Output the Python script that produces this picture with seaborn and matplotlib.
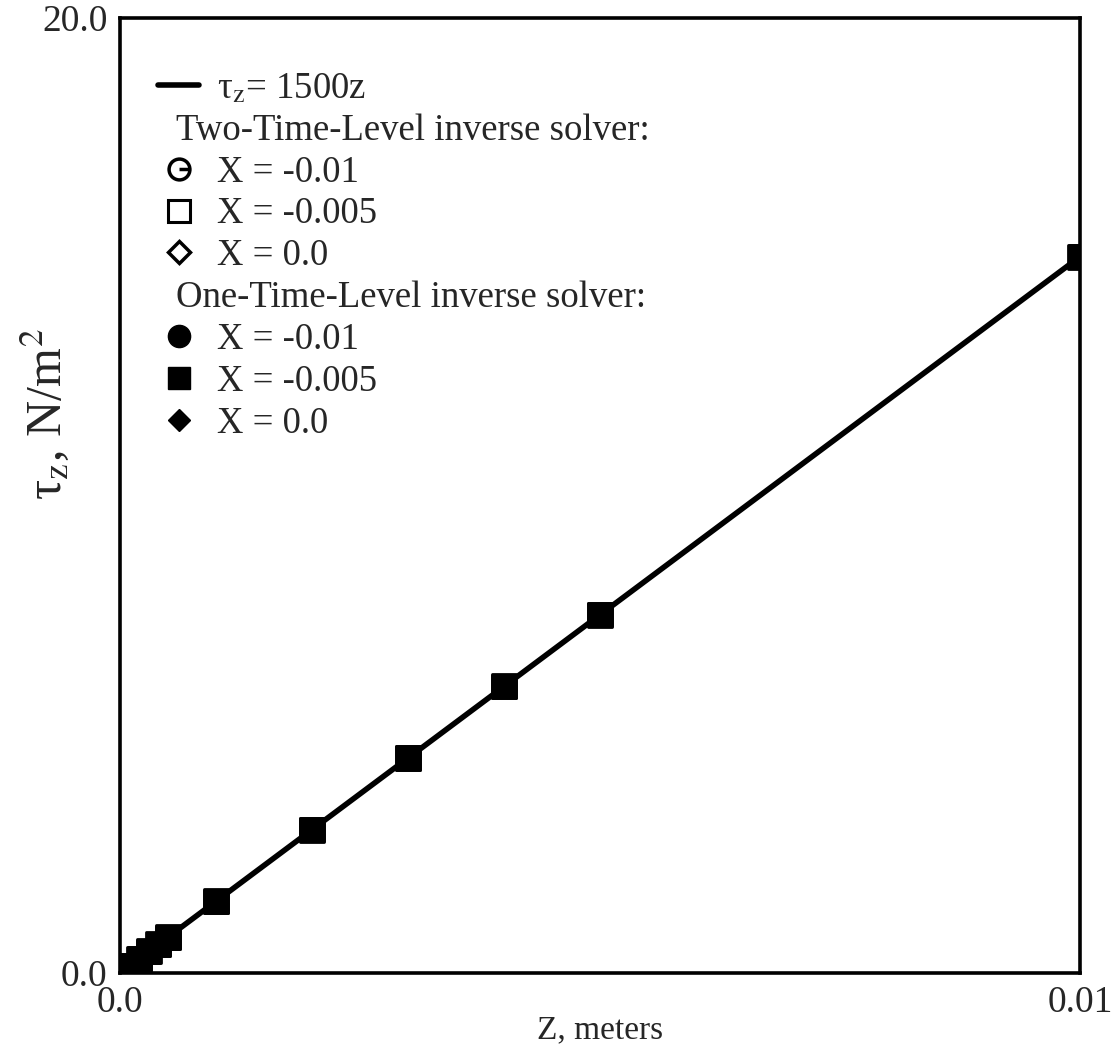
import numpy as np
import pandas as pd
import matplotlib
matplotlib.use("Agg")
import matplotlib.pyplot as plt
import seaborn as sns
from matplotlib.lines import Line2D
from matplotlib.path import Path

# sample points along z (meters) and the shear stress
z_points = [0.0, 0.0001, 0.0002, 0.0003, 0.0004, 0.0005, 0.001, 0.002, 0.003, 0.004, 0.005, 0.01]
tau_two_m010 = [0.0, 0.15, 0.3, 0.45, 0.6, 0.75, 1.5, 3.0, 4.5, 6.0, 7.5, 15.0]
tau_two_m005 = [0.0, 0.15, 0.3, 0.45, 0.6, 0.75, 1.5, 3.0, 4.5, 6.0, 7.5, 15.0]
tau_two_000 = [0.0, 0.15, 0.3, 0.45, 0.6, 0.75, 1.5, 3.0, 4.5, 6.0, 7.5, 15.0]
tau_one_m010 = [0.0, 0.15, 0.3, 0.45, 0.6, 0.75, 1.5, 3.0, 4.5, 6.0, 7.5, 15.0]
tau_one_m005 = [0.0, 0.15, 0.3, 0.45, 0.6, 0.75, 1.5, 3.0, 4.5, 6.0, 7.5, 15.0]
tau_one_000 = [0.0, 0.15, 0.3, 0.45, 0.6, 0.75, 1.5, 3.0, 4.5, 6.0, 7.5, 15.0]

# analytic line tau = 1500 z
line_z = [0.0, 0.01]
line_tau = [0.0, 15.0]

x_ticks = [0.0, 0.01]
x_ticklabels = ["0.0", "0.01"]
y_ticks = [0.0, 20.0]
y_ticklabels = ["0.0", "20.0"]

sns.set_style("white")
plt.rcParams["font.family"] = ["Liberation Serif", "DejaVu Serif"]
plt.rcParams["mathtext.fontset"] = "stix"

# open circle with a bar from the centre to the right edge
theta_marker = Path.make_compound_path(Path.unit_circle(),
                                       Path([[0.0, 0.0], [1.0, 0.0]]))

fig = plt.figure(figsize=(11.17, 10.49), dpi=100)
ax = fig.add_axes([0.1074, 0.0725, 0.8596, 0.9105])

sns.lineplot(x=line_z, y=line_tau, color="black", linewidth=4, ax=ax, zorder=2)

# filled squares are drawn last; the other solvers sit underneath them
series = [
    (tau_two_m010, theta_marker, "none", 200),
    (tau_two_m005, "s", "none", 280),
    (tau_two_000, "D", "none", 120),
    (tau_one_m010, "o", "black", 200),
    (tau_one_000, "D", "black", 120),
    (tau_one_m005, "s", "black", 300),
]
for vals, mk, fc, size in series:
    df = pd.DataFrame({"z": z_points, "tau": vals})
    sns.scatterplot(data=df, x="z", y="tau", marker=mk, s=size,
                    facecolor=fc, edgecolor="black", linewidth=2,
                    ax=ax, zorder=3, legend=False)

ax.set_xlim(0, 0.01)
ax.set_ylim(0, 20)
ax.set_xticks(x_ticks)
ax.set_xticklabels(x_ticklabels)
ax.set_yticks(y_ticks)
ax.set_yticklabels(y_ticklabels)
ax.tick_params(length=0, labelsize=27, pad=9)
for sp in ax.spines.values():
    sp.set_color("black")
    sp.set_linewidth(2.6)

ax.set_xlabel("Z, meters", fontsize=24, labelpad=-4)
ax.set_ylabel(r"τ$_\mathrm{z}$, N/m$^2$", fontsize=36)
ax.yaxis.set_label_coords(-0.05, 0.585)

blank = Line2D([], [], linestyle="none")
handles = [
    Line2D([], [], color="black", linewidth=4),
    blank,
    Line2D([], [], marker=theta_marker, linestyle="none", markersize=15,
           markerfacecolor="none", markeredgecolor="black", markeredgewidth=2.5),
    Line2D([], [], marker="s", linestyle="none", markersize=16,
           markerfacecolor="none", markeredgecolor="black", markeredgewidth=2.2),
    Line2D([], [], marker="D", linestyle="none", markersize=11.5,
           markerfacecolor="none", markeredgecolor="black", markeredgewidth=2.5),
    blank,
    Line2D([], [], marker="o", linestyle="none", markersize=16,
           markerfacecolor="black", markeredgecolor="black"),
    Line2D([], [], marker="s", linestyle="none", markersize=16,
           markerfacecolor="black", markeredgecolor="black"),
    Line2D([], [], marker="D", linestyle="none", markersize=11.5,
           markerfacecolor="black", markeredgecolor="black"),
]
labels = [
    r"τ$_\mathrm{z}$= 1500z",
    "Two-Time-Level inverse solver:",
    "X = -0.01",
    "X = -0.005",
    "X = 0.0",
    "One-Time-Level inverse solver:",
    "X = -0.01",
    "X = -0.005",
    "X = 0.0",
]
leg = ax.legend(handles, labels, loc="upper left", bbox_to_anchor=(0.04, 0.944),
                frameon=False, fontsize=26.5, handlelength=1.1, handletextpad=0.5,
                labelspacing=0.2, borderpad=0, borderaxespad=0)
# header rows start left of the other labels
for i in (1, 5):
    leg.get_texts()[i].set_x(-41)

fig.savefig("out.png", dpi=100)
